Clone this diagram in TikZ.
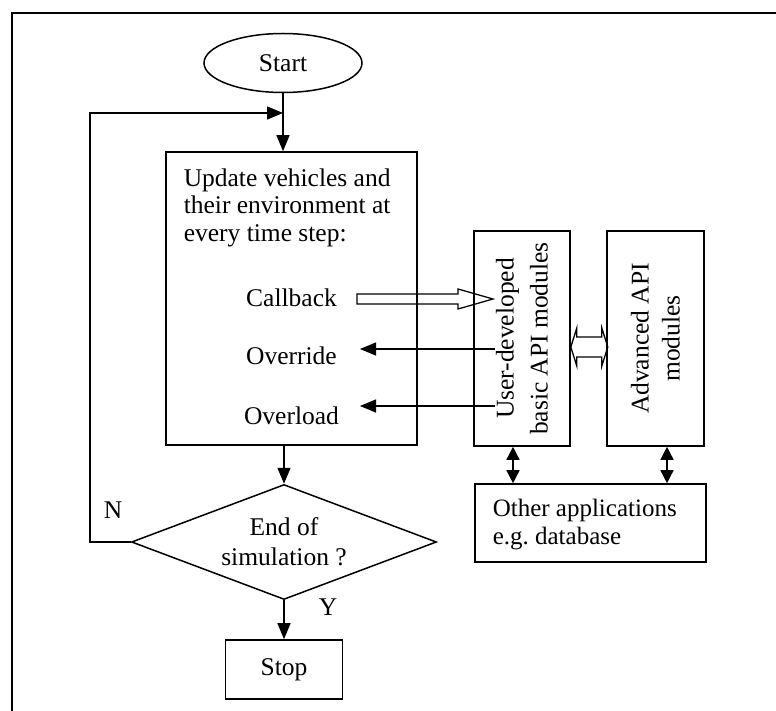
\documentclass[tikz,border=0pt]{standalone}
\usepackage{fontspec}
\setmainfont{Liberation Serif}
\usetikzlibrary{arrows.meta,shapes.geometric,calc}
\begin{document}
\begin{tikzpicture}[x=1pt,y=-1pt,
  line width=1.5pt,
  box/.style={draw,line width=1.6pt,inner sep=0pt},
  txt/.style={inner sep=0pt,font=\fontsize{25.5}{27.5}\selectfont},
  arr/.style={-{Triangle[length=16pt,width=13pt]}},
  darr/.style={{Triangle[length=13pt,width=13pt]}-{Triangle[length=13pt,width=13pt]}},
  thin arrow/.style={line width=1.3pt}
]
\useasboundingbox (0,0) rectangle (776,711);
% frame
\coordinate (fbl) at (12,711);
\coordinate (ftl) at (12,13);
\coordinate (ftr) at (776,13);
\draw[line width=2.8pt] (fbl) -- (ftl) -- (ftr);

% flowchart nodes
\node[draw,ellipse,line width=1.5pt,minimum width=158pt,minimum height=59pt,txt] (start) at (283,63) {Start};
\node[box,minimum width=251pt,minimum height=293pt] (upd) at (291.5,298.5) {};
\node[txt,anchor=north west,align=left] (updtxt) at (183,168) {Update vehicles and\\their environment at\\every time step:};
\node[txt,anchor=base] (cb) at (291.5,306) {Callback};
\node[txt,anchor=base] (ov) at (291.5,364) {Override};
\node[txt,anchor=base] (ol) at (291.5,424) {Overload};

\node[draw,diamond,line width=1.5pt,aspect=2.65,inner sep=0pt,minimum width=305pt,minimum height=115pt,
      align=center,font=\fontsize{25.5}{30}\selectfont] (dec) at (284,542) {End of\\simulation ?};
\node[box,minimum width=117pt,minimum height=59pt,txt] (stop) at (284,669.5) {Stop};
\node[txt] (nlab) at (113,510) {N};
\node[txt] (ylab) at (328,607) {Y};

% API boxes
\node[box,minimum width=96pt,minimum height=215pt] (user) at (522,338.5) {};
\node[txt,rotate=90,align=center,font=\fontsize{25.5}{34}\selectfont] (usertxt) at (user.center) {User-developed\\basic API modules};
\node[box,minimum width=97pt,minimum height=215pt] (adv) at (655.5,338.5) {};
\node[txt,rotate=90,align=center,font=\fontsize{25.5}{31}\selectfont] (advtxt) at (adv.center) {Advanced API\\modules};
\node[box,minimum width=231pt,minimum height=78pt] (oth) at (590.5,523) {};
\node[txt,anchor=north west,align=left,font=\fontsize{25}{28}\selectfont] (othtxt) at (492,498) {Other applications\\e.g.\ database};

% main flow connectors
\draw[arr] (start.south) -- (start.south |- upd.north);
\draw[arr] (upd.south -| dec.north) -- (dec.north);
\draw[arr] (dec.south) -- (stop.north);
\coordinate (lp) at (90,113);
\draw[arr] (dec.west) -- (dec.west -| lp) -- (lp) -- (lp -| start.south);

% callback hollow arrow
\coordinate (cbs) at (357,299);
\coordinate (cbt) at (493,299);
\draw[thin arrow] (cbs) ++(0,-5) -- ++(101,0) -- ++(0,-5) -- (cbt) -- ++(-35,10) -- ++(0,-5) -- ++(-101,0) -- cycle;

% override / overload arrows
\coordinate (ov1) at (495,349);
\coordinate (ov2) at (360,349);
\coordinate (ol1) at (495,406);
\coordinate (ol2) at (360,406);
\draw[arr,thin arrow] (ov1) -- (ov2);
\draw[arr,thin arrow] (ol1) -- (ol2);

% hollow double arrow between API boxes
\coordinate (hl) at (user.east |- 0,347);
\draw[thin arrow] (hl) -- ++(6,-19) -- ++(0,9) -- ++(25,0) -- ++(0,-9) -- ++(6,19) -- ++(-6,19) -- ++(0,-9) -- ++(-25,0) -- ++(0,9) -- cycle;

% vertical double arrows
\coordinate (va1) at (513,0);
\coordinate (va2) at (667,0);
\draw[darr] (user.south -| va1) -- (oth.north -| va1);
\draw[darr] (adv.south -| va2) -- (oth.north -| va2);
\end{tikzpicture}
\end{document}
